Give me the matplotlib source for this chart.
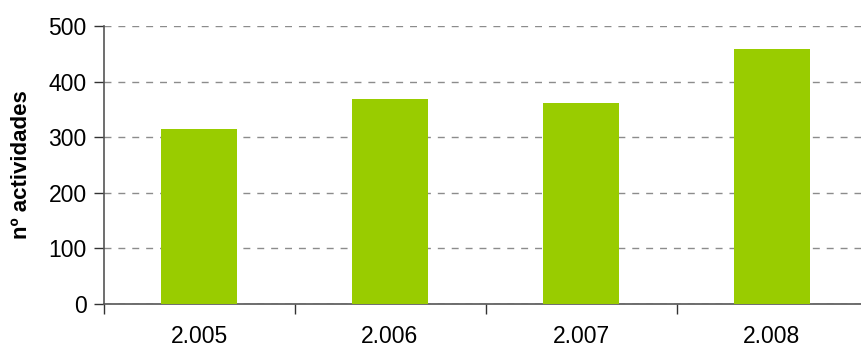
import matplotlib.pyplot as plt
import numpy as np

# datos
years = ["2.005", "2.006", "2.007", "2.008"]
activities = [314, 368, 361, 458]

plt.rcParams['font.family'] = ['Liberation Sans', 'DejaVu Sans']

fig = plt.figure(figsize=(8.61, 3.49), dpi=100)
ax = fig.add_axes([103.5 / 861, 45 / 349, 764 / 861, 278 / 349])

x = np.arange(len(years))
ax.bar(x, activities, width=0.4, color="#99CC00", zorder=3)

ax.set_xlim(-0.5, len(years) - 0.5)
ax.set_ylim(0, 500)
ax.set_yticks(range(0, 501, 100))
ax.yaxis.grid(True, linestyle=(0, (5, 5)), color="#8c8c8c", linewidth=1)
ax.tick_params(axis="y", labelsize=16.5, length=7, width=1, color="#333333", pad=5)

# etiquetas centradas, marcas en los bordes de categoría
ax.set_xticks(x)
ax.set_xticklabels(years)
ax.set_xticks(np.arange(-0.5, len(years), 1), minor=True)
ax.tick_params(axis="x", which="major", length=0, labelsize=16.5, pad=15)
ax.tick_params(axis="x", which="minor", length=7, width=1, color="#333333")

for side in ["top", "right"]:
    ax.spines[side].set_visible(False)
for side in ["left", "bottom"]:
    ax.spines[side].set_color("#555555")
    ax.spines[side].set_linewidth(1.2)

ax.set_ylabel("nº actividades", fontsize=16, fontweight="bold", labelpad=12)

fig.savefig("out.png", dpi=100)
